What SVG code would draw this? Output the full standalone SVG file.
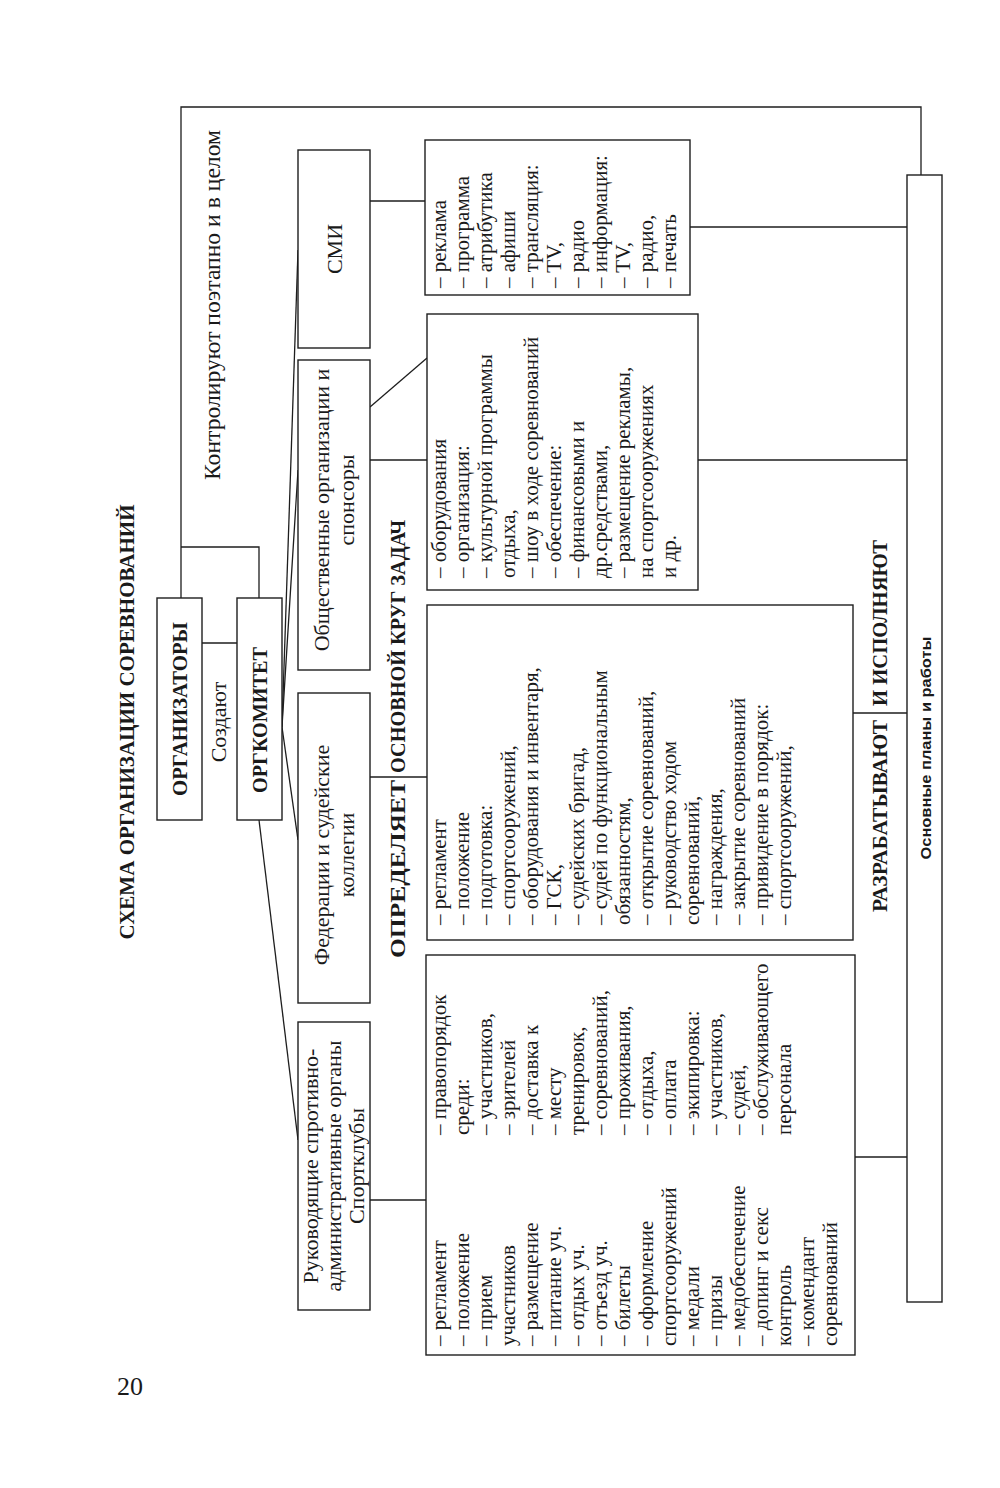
<svg xmlns="http://www.w3.org/2000/svg" width="1000" height="1488" viewBox="0 0 1000 1488">
<style>
.box{fill:#fff;stroke:#1e1e1e;stroke-width:1.4}
.ln{fill:none;stroke:#1e1e1e;stroke-width:1.3}
text{font-family:"Liberation Serif","Times New Roman",serif;fill:#1a1a1a}
.t{font-size:22px}
.l{font-size:21px}
.b{font-weight:bold;font-size:21px}
.s{font-family:"Liberation Sans Narrow","Liberation Sans",sans-serif;font-weight:bold;font-size:15px}
</style>
<rect width="1000" height="1488" fill="#fff"/>
<text x="117" y="1395" style="font-size:26px">20</text>
<text class="b" transform="translate(134,722) rotate(-90)" text-anchor="middle" textLength="435" lengthAdjust="spacingAndGlyphs" style="font-size:22px">СХЕМА ОРГАНИЗАЦИИ СОРЕВНОВАНИЙ</text>
<text class="t" transform="translate(220,305) rotate(-90)" text-anchor="middle" textLength="350" lengthAdjust="spacingAndGlyphs" style="font-size:23px">Контролируют поэтапно и в целом</text>
<text class="t" transform="translate(226,722) rotate(-90)" text-anchor="middle">Создают</text>

<g id="connectors">
<polyline class="ln" points="921,175 921,107 181,107 181,598"/>
<polyline class="ln" points="181,547 259,547 259,598"/>
<line class="ln" x1="202" y1="643" x2="237" y2="643"/>
<line class="ln" x1="282" y1="727" x2="298" y2="250"/>
<line class="ln" x1="282" y1="727" x2="298" y2="470"/>
<line class="ln" x1="282" y1="727" x2="298" y2="840"/>
<line class="ln" x1="259" y1="820" x2="298" y2="1140"/>
<line class="ln" x1="370" y1="201" x2="425" y2="201"/>
<line class="ln" x1="370" y1="460" x2="427" y2="460"/>
<line class="ln" x1="370" y1="407" x2="427" y2="358"/>
<line class="ln" x1="370" y1="777" x2="427" y2="777"/>
<line class="ln" x1="370" y1="1200" x2="426" y2="1200"/>
<line class="ln" x1="690" y1="227" x2="907" y2="227"/>
<line class="ln" x1="698" y1="460" x2="907" y2="460"/>
<line class="ln" x1="853" y1="713" x2="907" y2="713"/>
<line class="ln" x1="855" y1="1157" x2="907" y2="1157"/>
</g>

<g id="organizatory">
<rect class="box" x="157" y="598" width="45" height="222"/>
<text class="b" transform="translate(187,709) rotate(-90)" text-anchor="middle" textLength="174" lengthAdjust="spacingAndGlyphs">ОРГАНИЗАТОРЫ</text>
</g>
<g id="orgkomitet">
<rect class="box" x="237" y="598" width="45" height="222"/>
<text class="b" transform="translate(267,720) rotate(-90)" text-anchor="middle" textLength="146" lengthAdjust="spacingAndGlyphs">ОРГКОМИТЕТ</text>
</g>

<g id="smi">
<rect class="box" x="298" y="150" width="72" height="198"/>
<text class="t" transform="translate(342,249) rotate(-90)" text-anchor="middle">СМИ</text>
</g>
<g id="obshchestvennye">
<rect class="box" x="298" y="360" width="72" height="310"/>
<text class="t" transform="translate(329,510) rotate(-90)" text-anchor="middle">Общественные организации и</text>
<text class="t" transform="translate(354,500) rotate(-90)" text-anchor="middle">спонсоры</text>
</g>
<g id="federacii">
<rect class="box" x="298" y="693" width="72" height="310"/>
<text class="t" transform="translate(329,855) rotate(-90)" text-anchor="middle">Федерации и судейские</text>
<text class="t" transform="translate(354,855) rotate(-90)" text-anchor="middle">коллегии</text>
</g>
<g id="rukovodyashchie">
<rect class="box" x="298" y="1022" width="72" height="288"/>
<text class="t" transform="translate(318,1166) rotate(-90)" text-anchor="middle">Руководящие спротивно-</text>
<text class="t" transform="translate(341,1166) rotate(-90)" text-anchor="middle">административные органы</text>
<text class="t" transform="translate(364,1166) rotate(-90)" text-anchor="middle">Спортклубы</text>
</g>

<g id="opredelyaet">
<text class="b" transform="translate(405,958) rotate(-90)" textLength="178" lengthAdjust="spacingAndGlyphs">ОПРЕДЕЛЯЕТ</text>
<text class="b" transform="translate(405,773) rotate(-90)" textLength="253" lengthAdjust="spacingAndGlyphs">ОСНОВНОЙ КРУГ ЗАДАЧ</text>
</g>

<g id="list-rukovodyashchie">
<rect class="box" x="426" y="955" width="429" height="400"/>
<g class="l" transform="translate(446,1346) rotate(-90)">
<text y="0">– регламент</text>
<text y="23">– положение</text>
<text y="46">– прием</text>
<text y="69">участников</text>
<text y="92">– размещение</text>
<text y="115">– питание уч.</text>
<text y="138">– отдых уч.</text>
<text y="161">– отъезд уч.</text>
<text y="184">– билеты</text>
<text y="207">– оформление</text>
<text y="230">спортсооружений</text>
<text y="253">– медали</text>
<text y="276">– призы</text>
<text y="299">– медобеспечение</text>
<text y="322">– допинг и секс</text>
<text y="345">контроль</text>
<text y="368">– комендант</text>
<text y="391">соревнований</text>
</g>
<g class="l" transform="translate(446,1135) rotate(-90)">
<text y="0">– правопорядок</text>
<text y="23">среди:</text>
<text y="46">– участников,</text>
<text y="69">– зрителей</text>
<text y="92">– доставка к</text>
<text y="115">– месту</text>
<text y="138">тренировок,</text>
<text y="161">– соревнований,</text>
<text y="184">– проживания,</text>
<text y="207">– отдыха,</text>
<text y="230">– оплата</text>
<text y="253">– экипировка:</text>
<text y="276">– участников,</text>
<text y="299">– судей,</text>
<text y="322">– обслуживающего</text>
<text y="345">персонала</text>
</g>
</g>

<g id="list-federacii">
<rect class="box" x="427" y="605" width="426" height="335"/>
<g class="l" transform="translate(446,925) rotate(-90)">
<text y="0">– регламент</text>
<text y="23">– положение</text>
<text y="46">– подготовка:</text>
<text y="69">– спортсооружений,</text>
<text y="92">– оборудования и инвентаря,</text>
<text y="115">– ГСК,</text>
<text y="138">– судейских бригад,</text>
<text y="161">– судей по функциональным</text>
<text y="184">обязанностям,</text>
<text y="207">– открытие соревнований,</text>
<text y="230">– руководство ходом</text>
<text y="253">соревнований,</text>
<text y="276">– награждения,</text>
<text y="299">– закрытие соревнований</text>
<text y="322">– привидение в порядок:</text>
<text y="345">– спортсооружений,</text>
</g>
</g>

<g id="list-obshchestvennye">
<rect class="box" x="427" y="314" width="271" height="276"/>
<g class="l" transform="translate(446,578) rotate(-90)">
<text y="0">– оборудования</text>
<text y="23">– организация:</text>
<text y="46">– культурной программы</text>
<text y="69">отдыха,</text>
<text y="92">– шоу в ходе соревнований</text>
<text y="115">– обеспечение:</text>
<text y="138">– финансовыми и</text>
<text y="161">др.средствами,</text>
<text y="184">– размещение рекламы,</text>
<text y="207">на спортсооружениях</text>
<text y="230">и др.</text>
</g>
</g>

<g id="list-smi">
<rect class="box" x="425" y="140" width="265" height="155"/>
<g class="l" transform="translate(446,288) rotate(-90)">
<text y="0">– реклама</text>
<text y="23">– программа</text>
<text y="46">– атрибутика</text>
<text y="69">– афиши</text>
<text y="92">– трансляция:</text>
<text y="115">– TV,</text>
<text y="138">– радио</text>
<text y="161">– информация:</text>
<text y="184">– TV,</text>
<text y="207">– радио,</text>
<text y="230">– печать</text>
</g>
</g>

<g id="razrabatyvayut">
<text class="b" transform="translate(887,912) rotate(-90)" textLength="192" lengthAdjust="spacingAndGlyphs">РАЗРАБАТЫВАЮТ</text>
<text class="b" transform="translate(887,706) rotate(-90)" textLength="166" lengthAdjust="spacingAndGlyphs">И  ИСПОЛНЯЮТ</text>
</g>

<g id="osnovnye">
<rect class="box" x="907" y="175" width="35" height="1127"/>
<text class="s" transform="translate(931,748) rotate(-90)" text-anchor="middle" textLength="223" lengthAdjust="spacingAndGlyphs">Основные планы и работы</text>
</g>
</svg>
